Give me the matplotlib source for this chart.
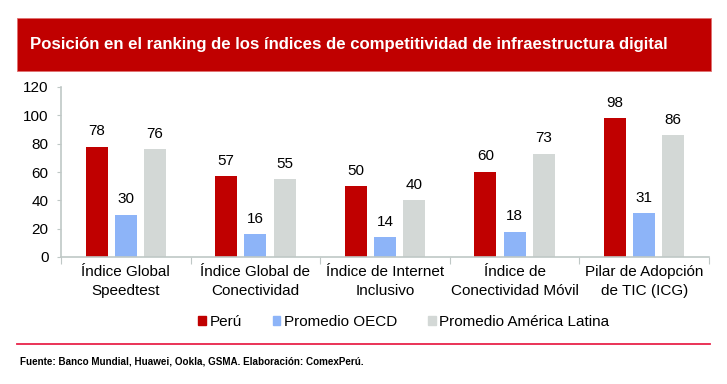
import numpy as np
import matplotlib.pyplot as plt
from matplotlib.patches import Rectangle
from matplotlib.lines import Line2D

plt.rcParams['font.family'] = ['Liberation Sans', 'DejaVu Sans']

categorias = ["Índice Global\nSpeedtest", "Índice Global de\nConectividad",
              "Índice de Internet\nInclusivo", "Índice de\nConectividad Móvil",
              "Pilar de Adopción\nde TIC (ICG)"]
peru = [78, 57, 50, 60, 98]
oecd = [30, 16, 14, 18, 31]
latam = [76, 55, 40, 73, 86]
series = ["Perú", "Promedio OECD", "Promedio América Latina"]
colores = ["#C00000", "#8DB4F8", "#D3D8D6"]

W, H = 727, 384
fig = plt.figure(figsize=(W / 100, H / 100), dpi=100)

# barra del titulo
fig.patches.append(Rectangle((17 / W, 1 - 71 / H), (711 - 17) / W, (71 - 18) / H,
                             transform=fig.transFigure, facecolor="#C00000",
                             edgecolor="#E07070", linewidth=0.6))
fig.text(30 / W, 1 - 45 / H, "Posición en el ranking de los índices de competitividad de infraestructura digital",
         color="white", fontsize=12.1, fontweight="bold", va="center", ha="left")

ax = fig.add_axes([61 / W, 1 - 257 / H, (709 - 61) / W, (257 - 87) / H])
x = np.arange(len(categorias))
w = 0.17
gap = 0.225
for i, (vals, nombre, c) in enumerate(zip([peru, oecd, latam], series, colores)):
    pos = x + (i - 1) * gap
    ax.bar(pos, vals, width=w, color=c, label=nombre)
    for p, v in zip(pos, vals):
        ax.text(p, v + 6, str(v), ha="center", va="bottom", fontsize=11)

ax.set_xlim(-0.5, len(categorias) - 0.5)
ax.set_ylim(0, 120)
ax.set_yticks(range(0, 121, 20))
ax.set_xticks(np.arange(-0.5, len(categorias), 1.0))
ax.set_xticklabels([])
ax.set_xticks(x, minor=True)
ax.set_xticklabels(categorias, minor=True, fontsize=11, linespacing=1.4)
ax.tick_params(axis="x", which="minor", length=0, pad=6)
ax.tick_params(axis="x", which="major", length=5, color="#BFC8C6")
ax.tick_params(axis="y", length=3, color="#BFC8C6", labelsize=11, pad=6)
for s in ["top", "right"]:
    ax.spines[s].set_visible(False)
for s in ["left", "bottom"]:
    ax.spines[s].set_color("#BFC8C6")
    ax.spines[s].set_linewidth(1.2)

handles = [Rectangle((0, 0), 1, 1, color=c) for c in colores]
fig.legend(handles, series, loc="center", bbox_to_anchor=(404 / W, 1 - 322 / H),
           ncol=3, frameon=False, fontsize=11, handlelength=0.5, handleheight=0.5,
           handletextpad=0.25, columnspacing=2.0)

fig.add_artist(Line2D([17 / W, 710 / W], [1 - 344 / H, 1 - 344 / H], transform=fig.transFigure,
                      color="#E8234A", linewidth=1.3))
fig.text(20 / W, 1 - 362 / H, "Fuente: Banco Mundial, Huawei, Ookla, GSMA. Elaboración: ComexPerú.",
         fontsize=7.1, fontweight="bold", va="center", ha="left")

fig.savefig("out.png", dpi=100)
